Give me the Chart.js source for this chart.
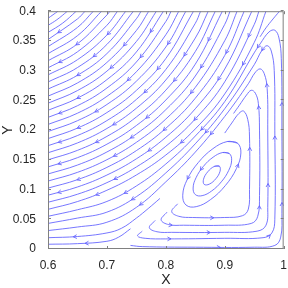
<!DOCTYPE html>
<html>
<head>
<meta charset="utf-8">
<script src="https://cdn.jsdelivr.net/npm/chart.js@4.4.1/dist/chart.umd.min.js"></script>
<style>
  html, body { margin: 0; padding: 0; background: #fff; }
</style>
</head>
<body>
<canvas id="phase" width="288" height="288"></canvas>
<script>
const xTicks = [0.6, 0.7, 0.8, 0.9, 1];
const yTicks = [0, 0.05, 0.1, 0.15, 0.2, 0.25, 0.3, 0.35, 0.4];

const driftLines = [
  [[0.6,0.388],[0.617,0.4]],
  [[0.6,0.3761],[0.615,0.3856],[0.633,0.4]],
  [[0.6,0.3642],[0.625,0.38],[0.648,0.4]],
  [[0.6,0.3523],[0.65,0.387],[0.663,0.4]],
  [[0.6,0.3404],[0.65,0.3727],[0.677,0.4]],
  [[0.6,0.3285],[0.65,0.3588],[0.691,0.4]],
  [[0.6,0.3166],[0.65,0.3451],[0.7,0.3936],[0.705,0.4]],
  [[0.6,0.3047],[0.65,0.3317],[0.7,0.3763],[0.718,0.4]],
  [[0.6,0.2928],[0.65,0.3184],[0.7,0.3599],[0.732,0.4]],
  [[0.6,0.2809],[0.65,0.3052],[0.7,0.3441],[0.745,0.4]],
  [[0.6,0.269],[0.65,0.2922],[0.7,0.3287],[0.75,0.3873],[0.758,0.4]],
  [[0.6,0.2571],[0.65,0.2793],[0.7,0.3138],[0.75,0.3675],[0.771,0.4]],
  [[0.6,0.2452],[0.65,0.2665],[0.7,0.2992],[0.75,0.349],[0.784,0.4]],
  [[0.6,0.2333],[0.65,0.2537],[0.7,0.2849],[0.75,0.3314],[0.796,0.4]],
  [[0.6,0.2214],[0.65,0.241],[0.7,0.2708],[0.75,0.3145],[0.8,0.3827],[0.809,0.4]],
  [[0.6,0.2095],[0.65,0.2284],[0.7,0.2568],[0.75,0.2981],[0.8,0.3604],[0.822,0.4]],
  [[0.6,0.1976],[0.65,0.2158],[0.7,0.2431],[0.75,0.2823],[0.8,0.3398],[0.834,0.4]],
  [[0.6,0.1857],[0.65,0.2033],[0.7,0.2295],[0.75,0.2668],[0.8,0.3204],[0.847,0.4]],
  [[0.6,0.1738],[0.65,0.1908],[0.7,0.216],[0.75,0.2516],[0.8,0.302],[0.85,0.3796],[0.859,0.4]],
  [[0.6,0.1619],[0.65,0.1784],[0.7,0.2027],[0.75,0.2368],[0.8,0.2843],[0.85,0.3548],[0.872,0.4]],
  [[0.6,0.15],[0.65,0.1659],[0.7,0.1894],[0.75,0.2221],[0.8,0.2672],[0.85,0.3321],[0.884,0.4]],
  [[0.6,0.1381],[0.65,0.1536],[0.7,0.1763],[0.75,0.2077],[0.8,0.2506],[0.85,0.3109],[0.896,0.4]],
  [[0.6,0.1262],[0.65,0.1412],[0.7,0.1632],[0.75,0.1935],[0.8,0.2344],[0.85,0.291],[0.9,0.3779],[0.909,0.4]],
  [[0.6,0.1143],[0.65,0.1289],[0.7,0.1502],[0.75,0.1794],[0.8,0.2186],[0.85,0.2719],[0.9,0.3504],[0.921,0.4]],
  [[0.6,0.1024],[0.65,0.1166],[0.7,0.1373],[0.75,0.1655],[0.8,0.2031],[0.85,0.2536],[0.9,0.3256],[0.933,0.4]],
  [[0.6,0.0905],[0.65,0.1043],[0.7,0.1244],[0.75,0.1517],[0.8,0.1879],[0.85,0.2359],[0.9,0.3027],[0.946,0.4]],
  [[0.6,0.0786],[0.65,0.0921],[0.7,0.1116],[0.75,0.138],[0.8,0.1729],[0.85,0.2188],[0.9,0.2813],[0.95,0.3776],[0.958,0.4]],
  [[0.6,0.0667],[0.65,0.0798],[0.7,0.0988],[0.75,0.1245],[0.8,0.1581],[0.85,0.202],[0.9,0.2609],[0.95,0.3473],[0.97,0.4]]
];

// bottom -> right edge -> over the top -> down the diagonal -> out the left edge
const bandLines = [
  [[0.74,0.006],[0.76,0.004],[0.85,0.003],[0.95,0.003],[0.985,0.006],[0.995,0.02],[0.997,0.06],[0.997,0.2],[0.996,0.32],[0.992,0.355],[0.985,0.368],[0.975,0.365],[0.96,0.345],[0.95,0.33],[0.9,0.248],[0.85,0.19],[0.8,0.143],[0.75,0.106],[0.7,0.08],[0.65,0.066],[0.6,0.055]],
  [[0.76,0.03],[0.752,0.022],[0.765,0.018],[0.8,0.017],[0.9,0.018],[0.965,0.019],[0.98,0.027],[0.985,0.05],[0.985,0.2],[0.984,0.3],[0.979,0.333],[0.972,0.342],[0.963,0.334],[0.95,0.31],[0.9,0.236],[0.85,0.177],[0.8,0.128],[0.75,0.088],[0.7,0.062],[0.65,0.052],[0.6,0.043]],
  [[0.782,0.048],[0.772,0.036],[0.785,0.029],[0.81,0.028],[0.9,0.028],[0.955,0.03],[0.97,0.04],[0.973,0.07],[0.973,0.2],[0.972,0.27],[0.967,0.295],[0.96,0.303],[0.951,0.296],[0.94,0.278],[0.9,0.223],[0.85,0.163],[0.8,0.113],[0.75,0.07],[0.7,0.045],[0.65,0.037],[0.6,0.031]]
];

const openLoops = [
  [[0.802,0.062],[0.792,0.049],[0.805,0.041],[0.83,0.04],[0.9,0.04],[0.945,0.043],[0.956,0.055],[0.959,0.09],[0.959,0.2],[0.957,0.245],[0.952,0.262],[0.945,0.267],[0.937,0.259],[0.925,0.242],[0.915,0.228]],
  [[0.82,0.076],[0.81,0.063],[0.822,0.055],[0.845,0.053],[0.9,0.053],[0.93,0.056],[0.94,0.067],[0.942,0.1],[0.942,0.19],[0.939,0.218],[0.932,0.232],[0.924,0.228],[0.912,0.212],[0.9,0.195]]
];

const closedOrbits = [
  [[0.8909,0.1393],[0.8822,0.1389],[0.8711,0.1298],[0.864,0.1173],[0.8651,0.1087],[0.8738,0.1091],[0.8849,0.1182],[0.892,0.1307],[0.8909,0.1393],[0.8822,0.1389]],
  [[0.9079,0.1605],[0.8964,0.1623],[0.8802,0.1544],[0.8637,0.1389],[0.8513,0.1199],[0.8463,0.1026],[0.8501,0.0915],[0.8616,0.0897],[0.8778,0.0976],[0.8943,0.1131],[0.9067,0.1321],[0.9117,0.1494],[0.9079,0.1605],[0.8964,0.1623]],
  [[0.9217,0.1781],[0.9044,0.1808],[0.88,0.1688],[0.855,0.1453],[0.8362,0.1167],[0.8287,0.0905],[0.8343,0.0739],[0.8516,0.0712],[0.876,0.0832],[0.901,0.1067],[0.9198,0.1353],[0.9274,0.1615],[0.9217,0.1781],[0.9044,0.1808]]
];

// short pieces heading out along the bottom-left, and one near the top-right corner
const bottomLines = [
  [[0.79,0.085],[0.77,0.068],[0.75,0.052],[0.725,0.035],[0.7,0.027],[0.65,0.021],[0.6,0.019]],
  [[0.74,0.034],[0.72,0.02],[0.7,0.013],[0.65,0.009],[0.6,0.008]]
];
const cornerLines = [
  [[0.993,0.4],[0.982,0.387],[0.97,0.372],[0.96,0.357]]
];

const LINE = 'rgb(95,95,255)';
const FONT = "'Liberation Sans', Arial, sans-serif";
const TEXT = '#262626';
const ARROW_GAP = 100;

const datasets = [];
function addGroup(lines, dir) {
  lines.forEach(line => {
    const n = datasets.length;
    datasets.push({
      data: line.map(([x, y]) => ({ x, y })),
      dir: dir,
      arrowStart: 22 + (n * 31) % 80,
      showLine: true,
      borderColor: LINE,
      borderWidth: 0.85,
      pointRadius: 0,
      tension: 0.4,
      fill: false
    });
  });
}
addGroup(driftLines, -1);
addGroup(bandLines, 1);
addGroup(openLoops, 1);
addGroup(closedOrbits, 1);
addGroup(bottomLines, 1);
addGroup(cornerLines, 1);

function tracePath(elems) {
  const out = [];
  for (let i = 0; i < elems.length - 1; i++) {
    const a = elems[i], b = elems[i + 1];
    const c1x = a.cp2x ?? a.x, c1y = a.cp2y ?? a.y;
    const c2x = b.cp1x ?? b.x, c2y = b.cp1y ?? b.y;
    for (let s = 0; s < 12; s++) {
      const t = s / 12, u = 1 - t;
      out.push([
        u*u*u*a.x + 3*u*u*t*c1x + 3*u*t*t*c2x + t*t*t*b.x,
        u*u*u*a.y + 3*u*u*t*c1y + 3*u*t*t*c2y + t*t*t*b.y
      ]);
    }
  }
  const last = elems[elems.length - 1];
  out.push([last.x, last.y]);
  return out;
}

function drawHead(ctx, x, y, dx, dy) {
  const L = 4, ca = Math.cos(0.5), sa = Math.sin(0.5);
  const bx = -dx, by = -dy;
  ctx.beginPath();
  ctx.moveTo(x + (bx*ca - by*sa) * L, y + (bx*sa + by*ca) * L);
  ctx.lineTo(x, y);
  ctx.lineTo(x + (bx*ca + by*sa) * L, y + (-bx*sa + by*ca) * L);
  ctx.stroke();
}

const flowArrows = {
  id: 'flowArrows',
  afterDatasetsDraw(chart) {
    const { ctx, chartArea: area } = chart;
    ctx.save();
    ctx.beginPath();
    ctx.rect(area.left, area.top, area.right - area.left, area.bottom - area.top);
    ctx.clip();
    ctx.strokeStyle = LINE;
    ctx.lineWidth = 0.85;
    chart.data.datasets.forEach((ds, i) => {
      const pts = tracePath(chart.getDatasetMeta(i).data);
      if (ds.dir < 0) pts.reverse();
      let total = 0;
      for (let j = 1; j < pts.length; j++) total += Math.hypot(pts[j][0] - pts[j-1][0], pts[j][1] - pts[j-1][1]);
      let acc = 0, next = ds.arrowStart;
      for (let j = 1; j < pts.length; j++) {
        const [x0, y0] = pts[j-1], [x1, y1] = pts[j];
        const seg = Math.hypot(x1 - x0, y1 - y0);
        if (seg < 1e-6) continue;
        while (acc + seg >= next && next < total - 6) {
          const f = (next - acc) / seg;
          drawHead(ctx, x0 + (x1 - x0) * f, y0 + (y1 - y0) * f, (x1 - x0) / seg, (y1 - y0) / seg);
          next += ARROW_GAP;
        }
        acc += seg;
      }
    });
    ctx.restore();
  }
};

const boxAndTicks = {
  id: 'boxAndTicks',
  afterDraw(chart) {
    const { ctx, chartArea: a, scales } = chart;
    ctx.save();
    ctx.strokeStyle = '#808080';
    ctx.lineWidth = 1;
    ctx.strokeRect(a.left + 0.5, a.top + 0.5, a.right - a.left - 1, a.bottom - a.top - 1);
    ctx.beginPath();
    xTicks.forEach(v => {
      const px = Math.round(scales.x.getPixelForValue(v)) + 0.5;
      ctx.moveTo(px, a.bottom); ctx.lineTo(px, a.bottom - 3);
      ctx.moveTo(px, a.top); ctx.lineTo(px, a.top + 3);
    });
    yTicks.forEach(v => {
      const py = Math.round(scales.y.getPixelForValue(v)) - 0.5;
      ctx.moveTo(a.left, py); ctx.lineTo(a.left + 3, py);
      ctx.moveTo(a.right, py); ctx.lineTo(a.right - 3, py);
    });
    ctx.stroke();
    ctx.restore();
  }
};

const fmt = v => String(Math.round(v * 100) / 100);

new Chart(document.getElementById('phase'), {
  type: 'scatter',
  data: { datasets },
  options: {
    responsive: false,
    animation: false,
    devicePixelRatio: 1,
    layout: { padding: { top: 7, right: 4, left: 0, bottom: 0 } },
    scales: {
      x: {
        type: 'linear', min: 0.6, max: 1,
        afterBuildTicks: s => { s.ticks = xTicks.map(v => ({ value: v })); },
        afterFit: s => { s.height = 39; },
        grid: { display: false },
        border: { display: false },
        ticks: { autoSkip: false, maxRotation: 0, padding: 1, color: TEXT, font: { family: FONT, size: 12 }, callback: fmt },
        title: { display: true, text: 'X', color: TEXT, font: { family: FONT, size: 14, lineHeight: 1 }, padding: { top: 0, bottom: 1 } }
      },
      y: {
        type: 'linear', min: 0, max: 0.4,
        afterBuildTicks: s => { s.ticks = yTicks.map(v => ({ value: v })); },
        afterFit: s => { s.width = 48; },
        grid: { display: false },
        border: { display: false },
        ticks: { autoSkip: false, padding: 4, color: TEXT, font: { family: FONT, size: 12 }, callback: fmt },
        title: { display: true, text: 'Y', color: TEXT, font: { family: FONT, size: 14, lineHeight: 1 }, padding: { top: 1, bottom: 0 } }
      }
    },
    plugins: { legend: { display: false }, tooltip: { enabled: false } }
  },
  plugins: [flowArrows, boxAndTicks]
});
</script>
</body>
</html>
